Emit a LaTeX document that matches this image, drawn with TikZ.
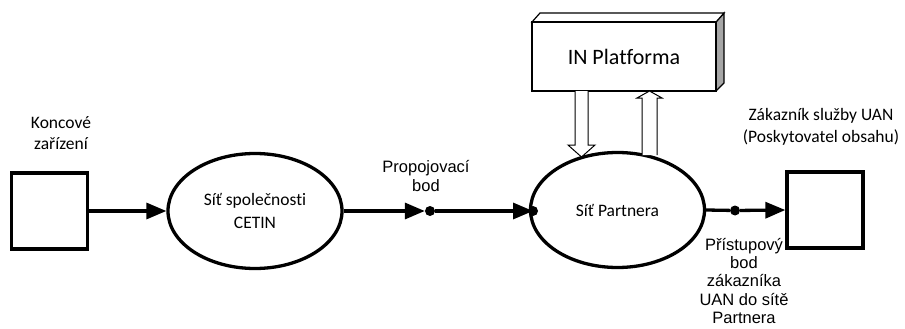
\documentclass[tikz,border=0pt]{standalone}
\usepackage{fontspec}
\setmainfont{Carlito}[Ligatures=NoCommon]
\newfontfamily\arialfont{Liberation Sans}
\usetikzlibrary{arrows.meta,shapes.geometric}
\begin{document}
\begin{tikzpicture}[x=1pt,y=-1pt,
  boxsq/.style={draw,line width=3.3pt,minimum width=76pt,minimum height=76pt,inner sep=0pt},
  net/.style={draw,ellipse,line width=3.3pt,minimum width=174pt,minimum height=115pt,inner sep=0pt,align=center,font=\fontsize{17.5}{22.5}\selectfont},
  lbl/.style={align=center,font=\fontsize{17.5}{21.5}\selectfont,inner sep=0pt},
  albl/.style={align=center,font=\arialfont\fontsize{16.5}{18.2}\selectfont,inner sep=0pt},
  conn/.style={line width=3.3pt,-{Triangle[length=20pt,width=16pt]}},
  plain/.style={line width=3.3pt},
  pt/.style={circle,fill=black,inner sep=0pt,minimum size=10pt},
  hollow/.style={draw=black,fill=white,line width=1pt,line join=miter}]
\useasboundingbox (0,0) rectangle (905,329);
% nodes
\node[boxsq] (sqL) at (49.5,211) {};
\node[boxsq] (sqR) at (825,210) {};
\node[net] (cetin) at (255,211) {Síť společnosti\\CETIN};
\node[net] (partner) at (617.5,210) {Síť Partnera};
\node[pt] (p1) at (430,211) {};
\node[pt] (p3) at (533,211) {};
\node[pt] (p2) at (735,210.5) {};
% labels
\node[lbl] (tK) at (61,133) {Koncové\\zařízení};
\node[albl] (tP) at (426,176) {Propojovací\\bod};
\node[lbl] (tZ) at (821,127) {Zákazník služby UAN\\(Poskytovatel obsahu)};
\node[albl] (tA) at (744,281) {Přístupový\\bod\\zákazníka\\UAN do sítě\\Partnera};
% IN platform 3D box
\fill[gray!70] (716,22) -- (724,13) -- (724,83) -- (716,91) -- cycle;
\draw[line width=1.2pt] (716,22) -- (724,13) -- (724,83) -- (716,91);
\draw[line width=1.2pt,fill=white] (532,22) -- (540,13) -- (724,13) -- (716,22) -- cycle;
\node[draw,line width=1.2pt,fill=white,minimum width=184pt,minimum height=69pt,inner sep=0pt,font=\fontsize{22}{26}\selectfont] (inbox) at (624,56.5) {IN Platforma};
% hollow arrows
\path[hollow] (575,91) -- (575,145) -- (568,145) -- (581.5,157) -- (595,145) -- (588,145) -- (588,91);
\path[hollow] (642,155) -- (642,98) -- (637,98) -- (649.5,91) -- (662,98) -- (657,98) -- (657,155);
% connectors
\draw[conn] (sqL) -- (cetin);
\draw[conn] (cetin) -- (p1.west);
\draw[conn] (p1) -- (p3.center);
\draw[plain] (partner.east) -- (p2);
\draw[conn] (p2) -- (sqR.west);
\end{tikzpicture}
\end{document}
